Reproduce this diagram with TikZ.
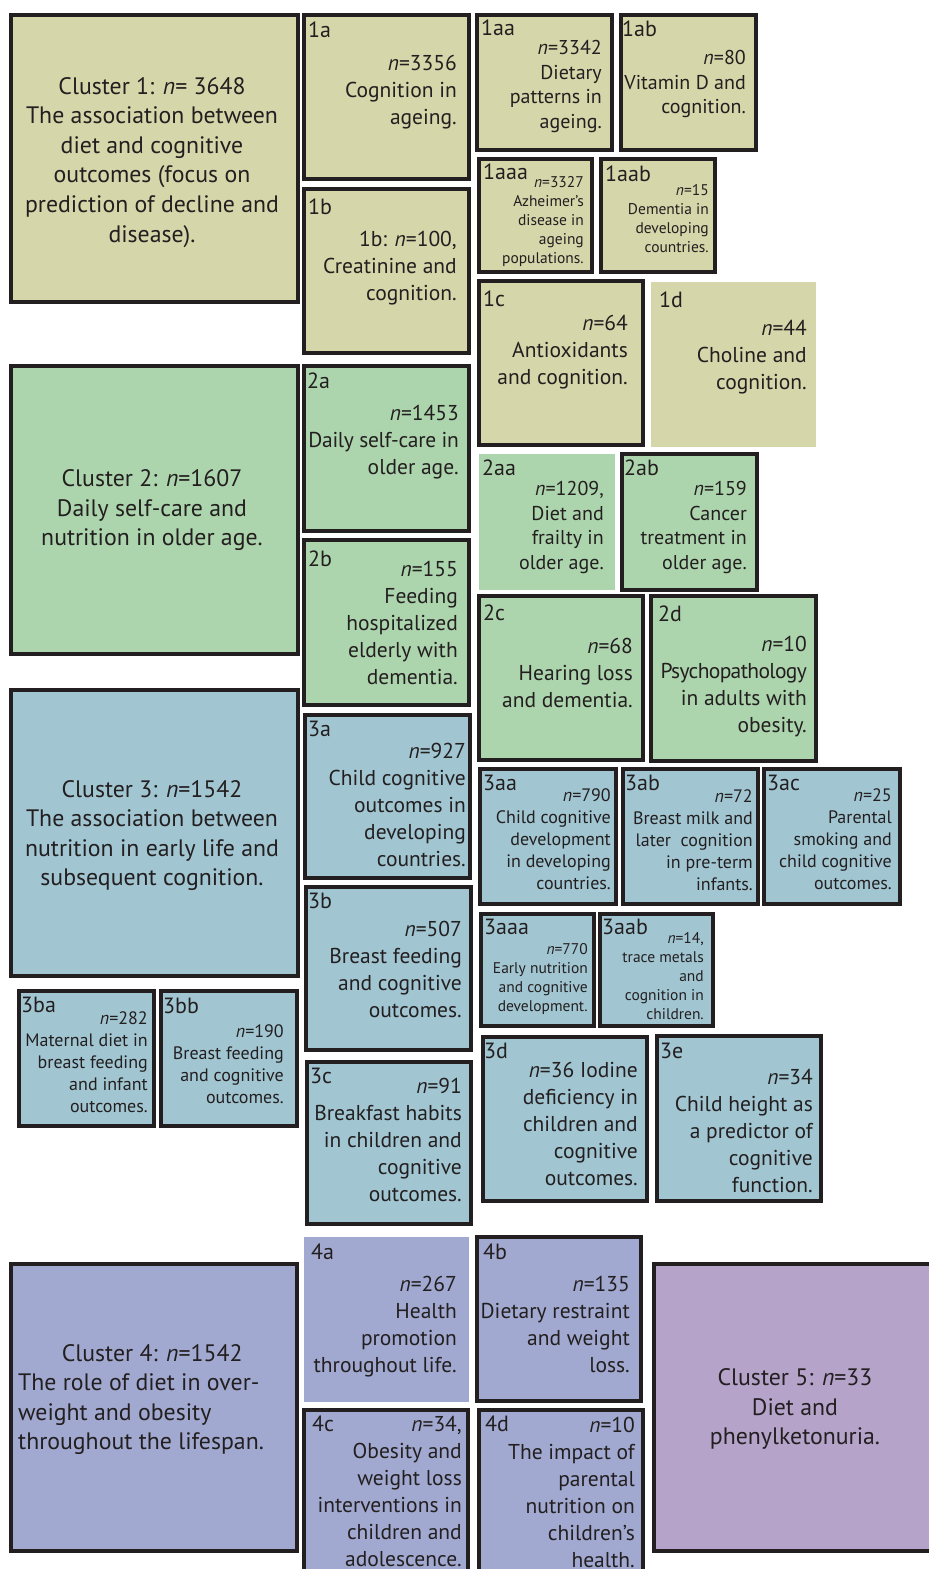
\documentclass[tikz,border=0pt]{standalone}
\usepackage{fontspec}
\setmainfont{PT Sans}
\definecolor{fondA}{HTML}{D5D6A9}
\definecolor{fondB}{HTML}{ADD5AD}
\definecolor{fondC}{HTML}{A1C6D2}
\definecolor{fondD}{HTML}{A1A9D0}
\definecolor{fondE}{HTML}{B5A3CA}
\definecolor{trait}{HTML}{231F20}
\newcommand{\effectif}[1]{\textit{n}=#1}
\newcommand{\serre}[2]{{\addfontfeature{LetterSpace=#1}#2}}
\tikzset{
  cadre/.style={draw=trait, line width=4.5pt},
  etiq/.style={anchor=west, inner sep=0pt, text=trait, font=\fontsize{22}{27}\selectfont},
  gros/.style={align=center, inner sep=0pt, text=trait, font=\fontsize{23.8}{29.6}\selectfont,
    execute at begin node=\strut, execute at end node=\strut},
  texte/.style={anchor=north east, align=right, inner sep=0pt, text=trait,
    execute at begin node=\strut},
  texteM/.style={texte, yshift=7.5pt, font=\fontsize{21.5}{27}\selectfont},
  texteS/.style={texte, yshift=7pt, font=\fontsize{20}{24.7}\selectfont},
  texteT/.style={texte, yshift=5.5pt, font=\fontsize{18}{22}\selectfont},
  texteXS/.style={texte, yshift=5.5pt, font=\fontsize{15.5}{19}\selectfont}
}
\begin{document}
\begin{tikzpicture}[x=1pt,y=-1pt]
\useasboundingbox (0,0) rectangle (929,1569);
\clip (0,0) rectangle (929,1569);
%   Cluster 1 :
\draw[cadre,fill=fondA] (11,15) rectangle (298,302);
\node[gros] (c1) at (152,164) {Cluster 1: \textit{n}= 3648\\The association between\\diet and cognitive\\outcomes (focus on\\prediction of decline and\\disease).};
\draw[cadre,fill=fondA] (304,15) rectangle (469,179);
\node[etiq] (e1a) at (308,30) {1a};
\node[texteM] (t1a) at (457,62) {\effectif{3356}\\Cognition in\\ageing.};
\draw[cadre,fill=fondA] (304,189) rectangle (469,353);
\node[etiq] (e1b) at (308,207) {1b};
\node[texteM] (t1b) at (457,238) {1b: \effectif{100},\\Creatinine and\\cognition.};
\draw[cadre,fill=fondA] (477,15) rectangle (612,150);
\node[etiq] (e1aa) at (481,28) {1aa};
\node[texteS] (t1aa) at (602,47) {\effectif{3342}\\Dietary\\patterns in\\ageing.};
\draw[cadre,fill=fondA] (621,15) rectangle (756,150);
\node[etiq] (e1ab) at (622,29) {1ab};
\node[texteS] (t1ab) at (746,57) {\effectif{80}\\Vitamin D and\\cognition.};
\draw[cadre,fill=fondA] (479,159) rectangle (592,272);
\node[etiq] (e1aaa) at (483,172) {1aaa};
\node[texteXS] (t1aaa) at (584,182) {\effectif{3327}\\Azheimer’s\\disease in\\ageing\\populations.};
\draw[cadre,fill=fondA] (601,159) rectangle (715,272);
\node[etiq] (e1aab) at (605,174) {1aab};
\node[texteXS] (t1aab) at (709,190) {\effectif{15}\\Dementia in\\developing\\countries.};
\draw[cadre,fill=fondA] (479,281) rectangle (643,445);
\node[etiq] (e1c) at (483,299) {1c};
\node[texteM] (t1c) at (628,322) {\effectif{64}\\Antioxidants\\and cognition.};
\fill[fondA] (651,282) rectangle (816,447);
\node[etiq] (e1d) at (659,300) {1d};
\node[texteM] (t1d) at (807,328) {\effectif{44}\\Choline and\\cognition.};
%   Cluster 2 :
\draw[cadre,fill=fondB] (11,366) rectangle (298,654);
\node[gros] (c2) at (152,512) {Cluster 2: \textit{n}=1607\\Daily self-care and\\nutrition in older age.};
\draw[cadre,fill=fondB] (304,366) rectangle (469,531);
\node[etiq] (e2a) at (307,381) {2a};
\node[texteM] (t2a) at (459,412) {\effectif{1453}\\\serre{-1.5}{Daily self-care in}\\older age.};
\draw[cadre,fill=fondB] (304,540) rectangle (469,705);
\node[etiq] (e2b) at (308,559) {2b};
\node[texteM] (t2b) at (458,568) {\effectif{155}\\Feeding\\hospitalized\\elderly with\\dementia.};
\fill[fondB] (479,454) rectangle (615,590);
\node[etiq] (e2aa) at (482,468) {2aa};
\node[texteS] (t2aa) at (604,488) {\effectif{1209},\\Diet and\\frailty in\\older age.};
\draw[cadre,fill=fondB] (622,454) rectangle (757,590);
\node[etiq] (e2ab) at (624,468) {2ab};
\node[texteS] (t2ab) at (747,488) {\effectif{159}\\Cancer\\treatment in\\older age.};
\draw[cadre,fill=fondB] (479,596) rectangle (643,760);
\node[etiq] (e2c) at (483,613) {2c};
\node[texteM] (t2c) at (633,645) {\effectif{68}\\Hearing loss\\and dementia.};
\draw[cadre,fill=fondB] (651,596) rectangle (816,761);
\node[etiq] (e2d) at (658,614) {2d};
\node[texteM] (t2d) at (807,643) {\effectif{10}\\\serre{-3}{Psychopathology}\\in adults with\\obesity.};
%   Cluster 3 :
\draw[cadre,fill=fondC] (11,690) rectangle (298,976);
\node[gros] (c3) at (152,837.5) {Cluster 3: \textit{n}=1542\\The association between\\nutrition in early life and\\subsequent cognition.};
\draw[cadre,fill=fondC] (305,715) rectangle (470,878);
\node[etiq] (e3a) at (308,729) {3a};
\node[texteM] (t3a) at (466,750) {\effectif{927}\\Child cognitive\\outcomes in\\developing\\countries.};
\draw[cadre,fill=fondC] (306,887) rectangle (471,1050);
\node[etiq] (e3b) at (308,901) {3b};
\node[texteM] (t3b) at (462,928) {\effectif{507}\\Breast feeding\\and cognitive\\outcomes.};
\draw[cadre,fill=fondC] (307,1062) rectangle (471,1224);
\node[etiq] (e3c) at (310,1076) {3c};
\node[texteM] (t3c) at (462,1085) {\effectif{91}\\Breakfast habits\\in children and\\cognitive\\outcomes.};
\draw[cadre,fill=fondC] (19,991) rectangle (154,1126);
\node[etiq] (e3ba) at (21,1005) {3ba};
\node[texteT] (t3ba) at (148,1017) {\effectif{282}\\Maternal diet in\\breast feeding\\and infant\\outcomes.};
\draw[cadre,fill=fondC] (161,991) rectangle (297,1126);
\node[etiq] (e3bb) at (163,1006) {3bb};
\node[texteT] (t3bb) at (284,1030) {\effectif{190}\\Breast feeding\\and cognitive\\outcomes.};
\draw[cadre,fill=fondC] (480,769) rectangle (616,904);
\node[etiq] (e3aa) at (483,783) {3aa};
\node[texteT] (t3aa) at (611,794) {\effectif{790}\\Child cognitive\\development\\in developing\\countries.};
\draw[cadre,fill=fondC] (623,769) rectangle (758,904);
\node[etiq] (e3ab) at (625,783) {3ab};
\node[texteT] (t3ab) at (753,795) {\effectif{72}\\Breast milk and\\later~ cognition\\in pre-term\\infants.};
\draw[cadre,fill=fondC] (764,769) rectangle (900,904);
\node[etiq] (e3ac) at (767,783) {3ac};
\node[texteT] (t3ac) at (892,794) {\effectif{25}\\Parental\\smoking and\\child cognitive\\outcomes.};
\draw[cadre,fill=fondC] (481,914) rectangle (594,1026);
\node[etiq] (e3aaa) at (484,927) {3aaa};
\node[texteXS] (t3aaa) at (588,949) {\effectif{770}\\Early nutrition\\and cognitive\\development.};
\draw[cadre,fill=fondC] (600,914) rectangle (713,1026);
\node[etiq] (e3aab) at (602,927) {3aab};
\node[texteXS] (t3aab) at (704,938) {\effectif{14},\\trace metals\\and\\cognition in\\children.};
\draw[cadre,fill=fondC] (483,1037) rectangle (647,1201);
\node[etiq] (e3d) at (484,1051) {3d};
\node[texteM] (t3d) at (638,1069) {\effectif{36} Iodine\\deficiency in\\children and\\cognitive\\outcomes.};
\draw[cadre,fill=fondC] (657,1036) rectangle (821,1201);
\node[etiq] (e3e) at (660,1051) {3e};
\node[texteM] (t3e) at (813,1076) {\effectif{34}\\Child height as\\a predictor of\\cognitive\\function.};
%   Cluster 4 :
\draw[cadre,fill=fondD] (11,1264) rectangle (297,1551);
\node[gros,align=left,anchor=north west,yshift=8pt,execute at end node={}] (c4) at (18,1352) {\makebox[268pt]{Cluster 4: \textit{n}=1542}\\The role of diet in over-\\weight and obesity\\throughout the lifespan.};
\fill[fondD] (304,1237) rectangle (469,1402);
\node[etiq] (e4a) at (311,1252) {4a};
\node[texteM] (t4a) at (457,1283) {\effectif{267}\\Health\\promotion\\throughout life.};
\draw[cadre,fill=fondD] (477,1237) rectangle (641,1401);
\node[etiq] (e4b) at (483,1252) {4b};
\node[texteM] (t4b) at (630,1283) {\effectif{135}\\Dietary restraint\\and weight\\loss.};
\draw[cadre,fill=fondD] (304,1410) rectangle (468,1576);
\node[etiq] (e4c) at (312,1424) {4c};
\node[texteM] (t4c) at (462,1423) {\effectif{34},\\Obesity and\\weight loss\\interventions in\\children and\\adolescence.};
\draw[cadre,fill=fondD] (479,1410) rectangle (643,1576);
\node[etiq] (e4d) at (485,1424) {4d};
\node[texteM] (t4d) at (635,1424) {\effectif{10}\\The impact of\\parental\\nutrition on\\children’s\\health.};
%   Cluster 5 :
\draw[cadre,fill=fondE] (654,1264) rectangle (938,1551);
\node[gros] (c5) at (795,1411) {Cluster 5: \textit{n}=33\\Diet and\\phenylketonuria.};
\end{tikzpicture}
\end{document}
